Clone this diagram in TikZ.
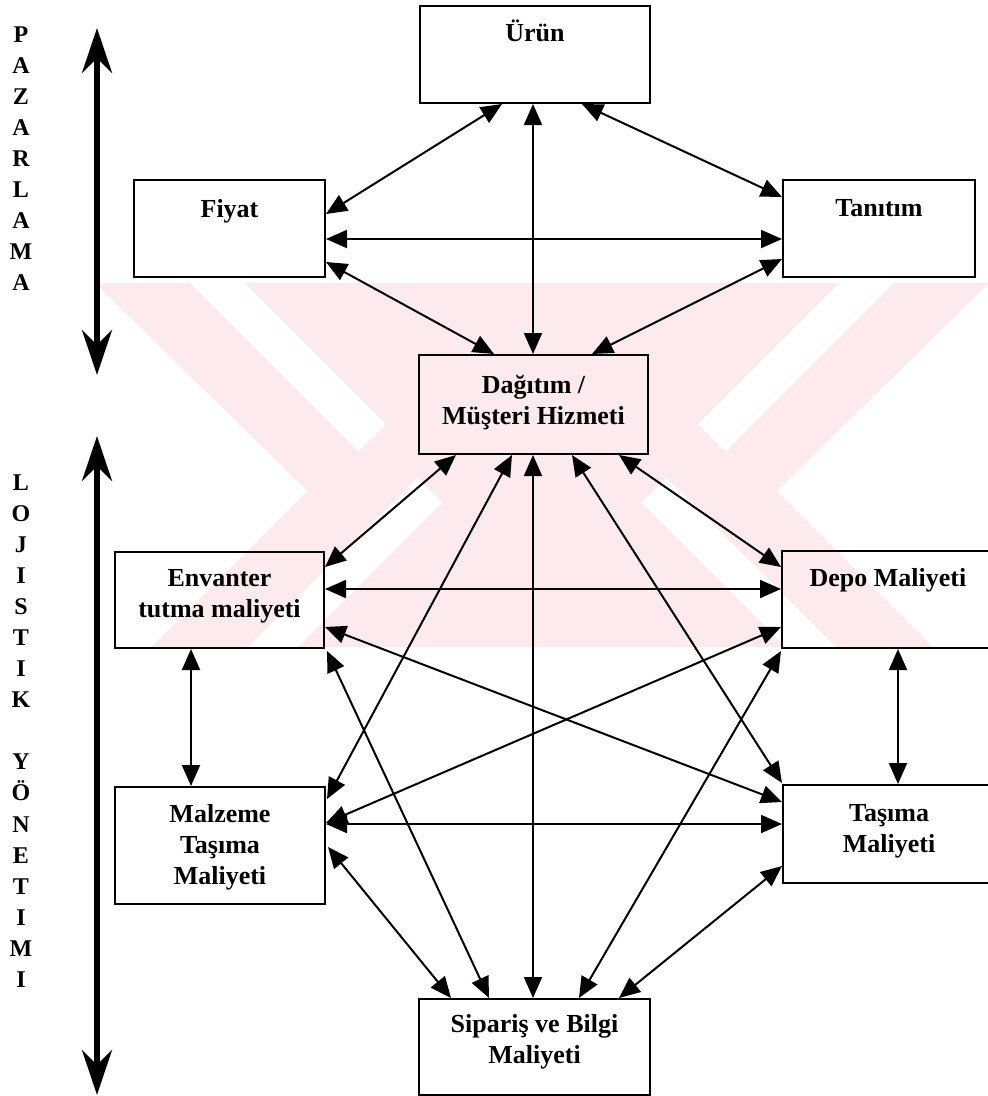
\documentclass[tikz,border=0pt]{standalone}
\usepackage{fontspec}
\setmainfont{Liberation Serif}
\usetikzlibrary{arrows.meta,calc}
\definecolor{wmpink}{RGB}{252,234,238}
\begin{document}
\begin{tikzpicture}[x=1pt,y=-1pt,
  box/.style={draw, line width=2pt, rectangle, inner sep=0pt},
  lbl/.style={inner sep=0pt, align=center, anchor=north,
    font=\fontsize{26}{31}\selectfont\bfseries},
  side/.style={inner sep=0pt, anchor=base,
    font=\fontsize{24}{29}\selectfont\bfseries},
  link/.style={line width=2pt,
    {Triangle[length=21pt,width=18pt]}-{Triangle[length=21pt,width=18pt]}},
  axis/.style={line width=6pt,
    {Stealth[length=45pt,width=30pt,inset=15pt]}-{Stealth[length=45pt,width=30pt,inset=15pt]}}
]
\clip (0,0) rectangle (988,1096);
\fill[white] (0,0) rectangle (988,1096);

% background emblem
\fill[wmpink] (97,283) rectangle (988,647);
\fill[white] (97,285) -- (307,491) -- (151,647) -- (97,647) -- cycle;
\fill[white] (190,283) -- (245,283) -- (386,424) -- (358.5,451.5) -- cycle;
\fill[white] (417.5,477.5) -- (442.5,502.5) -- (298,647) -- (248,647) -- cycle;
\fill[white] (988,284) -- (777,491) -- (933,647) -- (988,647) -- cycle;
\fill[white] (894,283) -- (839,283) -- (698,424) -- (725.5,451.5) -- cycle;
\fill[white] (666.5,477.5) -- (641.5,502.5) -- (786,647) -- (836,647) -- cycle;

% side captions
\foreach \ch [count=\i from 0] in {P,A,Z,A,R,L,A,M,A}
  \node[side] (pz\i) at (21,42+31*\i) {\ch};
\foreach \ch [count=\i from 0] in {L,O,J,I,S,T,I,K}
  \node[side] (lj\i) at (21,490+31.1*\i) {\ch};
\foreach \ch [count=\i from 0] in {Y,Ö,N,E,T,I,M,I}
  \node[side] (yn\i) at (21,769.8+31.1*\i) {\ch};

% side axes
\coordinate (pzA) at (97,28);
\coordinate (pzB) at (97,375);
\coordinate (ljA) at (97,436);
\coordinate (ljB) at (97,1095);
\draw[axis] (pzA) -- (pzB);
\draw[axis] (ljA) -- (ljB);

% boxes
\node[box, minimum width=230pt, minimum height=97pt] (uru) at (535,54.5) {};
\node[box, minimum width=191pt, minimum height=97pt] (fiy) at (229.5,228.5) {};
\node[box, minimum width=192pt, minimum height=97pt] (tan) at (879,228.5) {};
\node[box, minimum width=229pt, minimum height=99pt] (dag) at (533.5,404.5) {};
\node[box, minimum width=209pt, minimum height=96pt] (env) at (219.5,600) {};
\node[box, minimum width=212pt, minimum height=97pt] (dep) at (888,599.5) {};
\node[box, minimum width=210pt, minimum height=117pt] (mal) at (220,845.5) {};
\node[box, minimum width=212pt, minimum height=98pt] (tas) at (889,834) {};
\node[box, minimum width=231pt, minimum height=96pt] (sip) at (534.5,1047) {};

% box texts
\node[lbl] (uru-t) at ($(uru.north)+(0,12)$) {\rule{0pt}{24pt}Ürün};
\node[lbl] (fiy-t) at ($(fiy.north)+(0,14)$) {\rule{0pt}{24pt}Fiyat};
\node[lbl] (tan-t) at ($(tan.north)+(0,13)$) {\rule{0pt}{24pt}Tanıtım};
\node[lbl] (dag-t) at ($(dag.north)+(0,15)$) {\rule{0pt}{24pt}Dağıtım /\\Müşteri Hizmeti};
\node[lbl] (env-t) at ($(env.north)+(0,11)$) {\rule{0pt}{24pt}Envanter\\tutma maliyeti};
\node[lbl] (dep-t) at ($(dep.north)+(0,12)$) {\rule{0pt}{24pt}Depo Maliyeti};
\node[lbl] (mal-t) at ($(mal.north)+(0,12)$) {\rule{0pt}{24pt}Malzeme\\Taşıma\\Maliyeti};
\node[lbl] (tas-t) at ($(tas.north)+(0,13)$) {\rule{0pt}{24pt}Taşıma\\Maliyeti};
\node[lbl] (sip-t) at ($(sip.north)+(0,10)$) {\rule{0pt}{24pt}Sipariş ve Bilgi\\Maliyeti};

% marketing links
\draw[link] ($(uru.south west)+(83,0)$) -- ($(fiy.north east)+(0,35)$);
\draw[link] ($(uru.south west)+(114,0)$) -- ($(dag.north west)+(115,0)$);
\draw[link] ($(uru.south west)+(163,0)$) -- ($(tan.north west)+(0,18)$);
\draw[link] ($(fiy.north east)+(0,60)$) -- ($(tan.north west)+(0,60)$);
\draw[link] ($(fiy.north east)+(0,83)$) -- ($(dag.north west)+(76,0)$);
\draw[link] ($(tan.north west)+(0,80)$) -- ($(dag.north west)+(174,0)$);

% logistics links
\draw[link] ($(dag.south west)+(38,0)$) -- ($(env.north east)+(0,16)$);
\draw[link] ($(dag.south west)+(94,0)$) -- ($(mal.north east)+(1,13)$);
\draw[link] ($(dag.south west)+(115,0)$) -- ($(sip.north west)+(115,0)$);
\draw[link] ($(dag.south west)+(154,0)$) -- ($(tas.north west)+(0,-1)$);
\draw[link] ($(dag.south west)+(201,0)$) -- ($(dep.north west)+(0,17)$);
\draw[link] ($(env.north east)+(0,38)$) -- ($(dep.north west)+(0,39)$);
\draw[link] ($(env.north east)+(0,76)$) -- ($(tas.north west)+(0,18)$);
\draw[link] ($(env.south east)+(2,2)$) -- ($(sip.north west)+(71,0)$);
\draw[link] ($(env.south west)+(77,0)$) -- ($(mal.north west)+(77,0)$);
\draw[link] ($(mal.north east)+(0,37)$) -- ($(dep.north west)+(0,77)$);
\draw[link] ($(mal.north east)+(0,38)$) -- ($(tas.north west)+(0,40)$);
\draw[link] ($(mal.north east)+(2,61)$) -- ($(sip.north west)+(33,0)$);
\draw[link] ($(dep.south west)+(117,0)$) -- ($(tas.north west)+(116,0)$);
\draw[link] ($(dep.south west)+(0,2)$) -- ($(sip.north west)+(161,0)$);
\draw[link] ($(tas.north west)+(0,82)$) -- ($(sip.north west)+(201,0)$);
\end{tikzpicture}
\end{document}
